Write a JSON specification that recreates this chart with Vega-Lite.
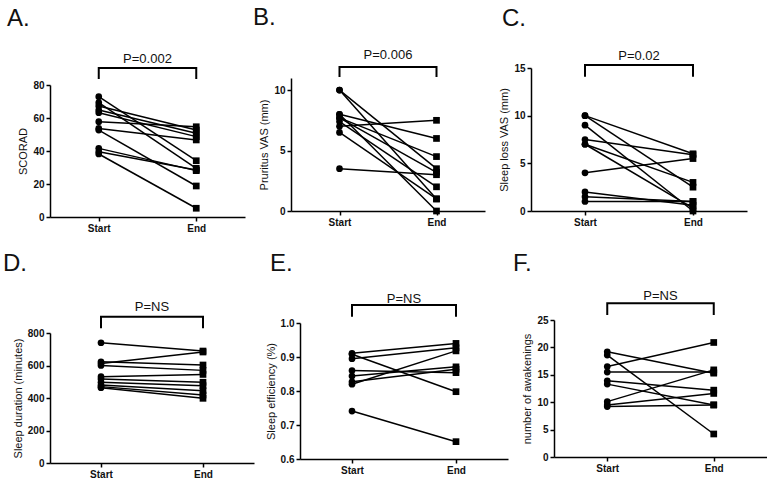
{
  "$schema": "https://vega.github.io/schema/vega-lite/v6.json",
  "background": "white",
  "padding": {"left": 3, "top": 5, "right": 0, "bottom": 0},
  "config": {
    "view": {"stroke": null},
    "font": "Liberation Sans",
    "axis": {"domainColor": "#000", "domainWidth": 1.5, "tickColor": "#000", "tickWidth": 1.5, "tickSize": 4, "labelFont": "Liberation Sans", "labelFontSize": 10, "labelFontWeight": "bold", "labelColor": "#111", "labelPadding": 2, "titleFont": "Liberation Sans", "titleFontSize": 11, "titleFontWeight": "normal", "titleColor": "#111", "grid": false},
    "title": {"anchor": "start", "frame": "group", "baseline": "alphabetic", "fontSize": 24, "fontWeight": "normal", "font": "Liberation Sans", "color": "#111"},
    "line": {"color": "#000", "strokeWidth": 1.5},
    "point": {"color": "#000", "filled": true, "opacity": 1},
    "text": {"font": "Liberation Sans", "fontSize": 13, "color": "#111", "baseline": "alphabetic"}
  },
  "datasets": {
    "A": [
      {"id": 1, "t": 1, "v": 72.9}, {"id": 1, "t": 2, "v": 34.1},
      {"id": 2, "t": 1, "v": 69.3}, {"id": 2, "t": 2, "v": 29.5},
      {"id": 3, "t": 1, "v": 67.3}, {"id": 3, "t": 2, "v": 52.7},
      {"id": 4, "t": 1, "v": 64.8}, {"id": 4, "t": 2, "v": 50.7},
      {"id": 5, "t": 1, "v": 63.2}, {"id": 5, "t": 2, "v": 48.7},
      {"id": 6, "t": 1, "v": 57.8}, {"id": 6, "t": 2, "v": 54.7},
      {"id": 7, "t": 1, "v": 53.7}, {"id": 7, "t": 2, "v": 46.7},
      {"id": 8, "t": 1, "v": 52.7}, {"id": 8, "t": 2, "v": 18.8},
      {"id": 9, "t": 1, "v": 41.6}, {"id": 9, "t": 2, "v": 28.1},
      {"id": 10, "t": 1, "v": 39.6}, {"id": 10, "t": 2, "v": 28.5},
      {"id": 11, "t": 1, "v": 38.2}, {"id": 11, "t": 2, "v": 5.3}
    ],
    "Abr": [{"o": 1, "t": 1, "v": 83.6}, {"o": 2, "t": 1, "v": 90.3}, {"o": 3, "t": 2, "v": 90.3}, {"o": 4, "t": 2, "v": 83.6}],
    "Alab": [{"t": 1.5, "v": 93.3, "label": "P=0.002"}],
    "B": [
      {"id": 1, "t": 1, "v": 10}, {"id": 1, "t": 2, "v": 3.5},
      {"id": 2, "t": 1, "v": 10}, {"id": 2, "t": 2, "v": 1},
      {"id": 3, "t": 1, "v": 8}, {"id": 3, "t": 2, "v": 6},
      {"id": 4, "t": 1, "v": 8}, {"id": 4, "t": 2, "v": 0},
      {"id": 5, "t": 1, "v": 7.7}, {"id": 5, "t": 2, "v": 4.5},
      {"id": 6, "t": 1, "v": 7.4}, {"id": 6, "t": 2, "v": 2},
      {"id": 7, "t": 1, "v": 7}, {"id": 7, "t": 2, "v": 7.5},
      {"id": 8, "t": 1, "v": 6.5}, {"id": 8, "t": 2, "v": 1},
      {"id": 9, "t": 1, "v": 3.5}, {"id": 9, "t": 2, "v": 3},
      {"id": 10, "t": 1, "v": 7.7}, {"id": 10, "t": 2, "v": 3.2}
    ],
    "Bbr": [{"o": 1, "t": 1, "v": 11.08}, {"o": 2, "t": 1, "v": 11.92}, {"o": 3, "t": 2, "v": 11.92}, {"o": 4, "t": 2, "v": 11.08}],
    "Blab": [{"t": 1.5, "v": 12.58, "label": "P=0.006"}],
    "C": [
      {"id": 1, "t": 1, "v": 10}, {"id": 1, "t": 2, "v": 6},
      {"id": 2, "t": 1, "v": 10}, {"id": 2, "t": 2, "v": 2.5},
      {"id": 3, "t": 1, "v": 9}, {"id": 3, "t": 2, "v": 0},
      {"id": 4, "t": 1, "v": 7.5}, {"id": 4, "t": 2, "v": 5.9},
      {"id": 5, "t": 1, "v": 7}, {"id": 5, "t": 2, "v": 3},
      {"id": 6, "t": 1, "v": 7}, {"id": 6, "t": 2, "v": 0.3},
      {"id": 7, "t": 1, "v": 4}, {"id": 7, "t": 2, "v": 5.5},
      {"id": 8, "t": 1, "v": 2}, {"id": 8, "t": 2, "v": 0.6},
      {"id": 9, "t": 1, "v": 1.5}, {"id": 9, "t": 2, "v": 1},
      {"id": 10, "t": 1, "v": 1}, {"id": 10, "t": 2, "v": 1}
    ],
    "Cbr": [{"o": 1, "t": 1, "v": 14.09}, {"o": 2, "t": 1, "v": 15.32}, {"o": 3, "t": 2, "v": 15.32}, {"o": 4, "t": 2, "v": 14.09}],
    "Clab": [{"t": 1.5, "v": 15.84, "label": "P=0.02"}],
    "D": [
      {"id": 1, "t": 1, "v": 740}, {"id": 1, "t": 2, "v": 689},
      {"id": 2, "t": 1, "v": 612}, {"id": 2, "t": 2, "v": 683},
      {"id": 3, "t": 1, "v": 623}, {"id": 3, "t": 2, "v": 603},
      {"id": 4, "t": 1, "v": 600}, {"id": 4, "t": 2, "v": 570},
      {"id": 5, "t": 1, "v": 531}, {"id": 5, "t": 2, "v": 545},
      {"id": 6, "t": 1, "v": 517}, {"id": 6, "t": 2, "v": 497},
      {"id": 7, "t": 1, "v": 497}, {"id": 7, "t": 2, "v": 476},
      {"id": 8, "t": 1, "v": 480}, {"id": 8, "t": 2, "v": 445},
      {"id": 9, "t": 1, "v": 470}, {"id": 9, "t": 2, "v": 418},
      {"id": 10, "t": 1, "v": 463}, {"id": 10, "t": 2, "v": 398}
    ],
    "Dbr": [{"o": 1, "t": 1, "v": 829}, {"o": 2, "t": 1, "v": 900}, {"o": 3, "t": 2, "v": 900}, {"o": 4, "t": 2, "v": 829}],
    "Dlab": [{"t": 1.5, "v": 935, "label": "P=NS"}],
    "E": [
      {"id": 1, "t": 1, "v": 0.911}, {"id": 1, "t": 2, "v": 0.94},
      {"id": 2, "t": 1, "v": 0.908}, {"id": 2, "t": 2, "v": 0.798},
      {"id": 3, "t": 1, "v": 0.895}, {"id": 3, "t": 2, "v": 0.927},
      {"id": 4, "t": 1, "v": 0.86}, {"id": 4, "t": 2, "v": 0.854},
      {"id": 5, "t": 1, "v": 0.844}, {"id": 5, "t": 2, "v": 0.871},
      {"id": 6, "t": 1, "v": 0.827}, {"id": 6, "t": 2, "v": 0.864},
      {"id": 7, "t": 1, "v": 0.82}, {"id": 7, "t": 2, "v": 0.918},
      {"id": 8, "t": 1, "v": 0.741}, {"id": 8, "t": 2, "v": 0.651}
    ],
    "Ebr": [{"o": 1, "t": 1, "v": 1.0185}, {"o": 2, "t": 1, "v": 1.053}, {"o": 3, "t": 2, "v": 1.053}, {"o": 4, "t": 2, "v": 1.0185}],
    "Elab": [{"t": 1.5, "v": 1.059, "label": "P=NS"}],
    "F": [
      {"id": 1, "t": 1, "v": 19.2}, {"id": 1, "t": 2, "v": 15.3},
      {"id": 2, "t": 1, "v": 18.6}, {"id": 2, "t": 2, "v": 4.2},
      {"id": 3, "t": 1, "v": 16.5}, {"id": 3, "t": 2, "v": 20.9},
      {"id": 4, "t": 1, "v": 15.5}, {"id": 4, "t": 2, "v": 15.5},
      {"id": 5, "t": 1, "v": 13.9}, {"id": 5, "t": 2, "v": 12.2},
      {"id": 6, "t": 1, "v": 13.3}, {"id": 6, "t": 2, "v": 9.5},
      {"id": 7, "t": 1, "v": 10.1}, {"id": 7, "t": 2, "v": 15.9},
      {"id": 8, "t": 1, "v": 9.5}, {"id": 8, "t": 2, "v": 11.6},
      {"id": 9, "t": 1, "v": 9.2}, {"id": 9, "t": 2, "v": 9.5}
    ],
    "Fbr": [{"o": 1, "t": 1, "v": 25.9}, {"o": 2, "t": 1, "v": 28.05}, {"o": 3, "t": 2, "v": 28.05}, {"o": 4, "t": 2, "v": 25.9}],
    "Flab": [{"t": 1.5, "v": 28.65, "label": "P=NS"}]
  },
  "spacing": 18,
  "vconcat": [
    {
      "hconcat": [
        {
          "title": {"text": "A.", "dx": -43, "offset": 22},
          "width": 195, "height": 149,
          "encoding": {
            "x": {"field": "t", "type": "quantitative", "scale": {"domain": [0.5, 2.5]}, "axis": {"title": null, "values": [1, 2], "labelExpr": "datum.value == 1 ? 'Start' : 'End'"}},
            "y": {"field": "v", "type": "quantitative", "scale": {"domain": [0, 80], "range": [149, 17]}, "axis": {"title": "SCORAD", "values": [0, 20, 40, 60, 80]}}
          },
          "layer": [
            {"data": {"name": "A"}, "mark": "line", "encoding": {"detail": {"field": "id"}}},
            {"data": {"name": "A"}, "mark": {"type": "point", "size": 45}, "encoding": {"shape": {"field": "t", "type": "nominal", "scale": {"domain": [1, 2], "range": ["circle", "square"]}, "legend": null}}},
            {"data": {"name": "Abr"}, "mark": {"type": "line", "strokeWidth": 2}, "encoding": {"order": {"field": "o"}}},
            {"data": {"name": "Alab"}, "mark": "text", "encoding": {"text": {"field": "label"}}}
          ]
        },
        {
          "title": {"text": "B.", "dx": -38, "offset": 19},
          "width": 194, "height": 143,
          "encoding": {
            "x": {"field": "t", "type": "quantitative", "scale": {"domain": [0.5, 2.5]}, "axis": {"title": null, "values": [1, 2], "labelExpr": "datum.value == 1 ? 'Start' : 'End'"}},
            "y": {"field": "v", "type": "quantitative", "scale": {"domain": [0, 11], "range": [143, 10]}, "axis": {"title": "Pruritus VAS (mm)", "values": [0, 5, 10]}}
          },
          "layer": [
            {"data": {"name": "B"}, "mark": "line", "encoding": {"detail": {"field": "id"}}},
            {"data": {"name": "B"}, "mark": {"type": "point", "size": 45}, "encoding": {"shape": {"field": "t", "type": "nominal", "scale": {"domain": [1, 2], "range": ["circle", "square"]}, "legend": null}}},
            {"data": {"name": "Bbr"}, "mark": {"type": "line", "strokeWidth": 2}, "encoding": {"order": {"field": "o"}}},
            {"data": {"name": "Blab"}, "mark": "text", "encoding": {"text": {"field": "label"}}}
          ]
        },
        {
          "title": {"text": "C.", "dx": -29, "offset": 19},
          "width": 216, "height": 143,
          "encoding": {
            "x": {"field": "t", "type": "quantitative", "scale": {"domain": [0.5, 2.5]}, "axis": {"title": null, "values": [1, 2], "labelExpr": "datum.value == 1 ? 'Start' : 'End'"}},
            "y": {"field": "v", "type": "quantitative", "scale": {"domain": [0, 15], "range": [143, 0]}, "axis": {"title": "Sleep loss VAS (mm)", "values": [0, 5, 10, 15]}}
          },
          "layer": [
            {"data": {"name": "C"}, "mark": "line", "encoding": {"detail": {"field": "id"}}},
            {"data": {"name": "C"}, "mark": {"type": "point", "size": 45}, "encoding": {"shape": {"field": "t", "type": "nominal", "scale": {"domain": [1, 2], "range": ["circle", "square"]}, "legend": null}}},
            {"data": {"name": "Cbr"}, "mark": {"type": "line", "strokeWidth": 2}, "encoding": {"order": {"field": "o"}}},
            {"data": {"name": "Clab"}, "mark": "text", "encoding": {"text": {"field": "label"}}}
          ]
        }
      ],
      "spacing": 46,
      "bounds": "flush"
    },
    {
      "hconcat": [
        {
          "title": {"text": "D.", "dx": -47, "offset": 25},
          "width": 204, "height": 143,
          "encoding": {
            "x": {"field": "t", "type": "quantitative", "scale": {"domain": [0.5, 2.5]}, "axis": {"title": null, "values": [1, 2], "labelExpr": "datum.value == 1 ? 'Start' : 'End'"}},
            "y": {"field": "v", "type": "quantitative", "scale": {"domain": [0, 800], "range": [143, 13]}, "axis": {"title": "Sleep duration (minutes)", "values": [0, 200, 400, 600, 800]}}
          },
          "layer": [
            {"data": {"name": "D"}, "mark": "line", "encoding": {"detail": {"field": "id"}}},
            {"data": {"name": "D"}, "mark": {"type": "point", "size": 45}, "encoding": {"shape": {"field": "t", "type": "nominal", "scale": {"domain": [1, 2], "range": ["circle", "square"]}, "legend": null}}},
            {"data": {"name": "Dbr"}, "mark": {"type": "line", "strokeWidth": 2}, "encoding": {"order": {"field": "o"}}},
            {"data": {"name": "Dlab"}, "mark": "text", "encoding": {"text": {"field": "label"}}}
          ]
        },
        {
          "title": {"text": "E.", "dx": -30, "offset": 17},
          "width": 208, "height": 139,
          "encoding": {
            "x": {"field": "t", "type": "quantitative", "scale": {"domain": [0.5, 2.5]}, "axis": {"title": null, "values": [1, 2], "labelExpr": "datum.value == 1 ? 'Start' : 'End'"}},
            "y": {"field": "v", "type": "quantitative", "scale": {"domain": [0.6, 1.0], "range": [139, 3], "zero": false}, "axis": {"title": "Sleep efficiency  (%)", "values": [0.6, 0.7, 0.8, 0.9, 1.0], "format": ".1f"}}
          },
          "layer": [
            {"data": {"name": "E"}, "mark": "line", "encoding": {"detail": {"field": "id"}}},
            {"data": {"name": "E"}, "mark": {"type": "point", "size": 45}, "encoding": {"shape": {"field": "t", "type": "nominal", "scale": {"domain": [1, 2], "range": ["circle", "square"]}, "legend": null}}},
            {"data": {"name": "Ebr"}, "mark": {"type": "line", "strokeWidth": 2}, "encoding": {"order": {"field": "o"}}},
            {"data": {"name": "Elab"}, "mark": "text", "encoding": {"text": {"field": "label"}}}
          ]
        },
        {
          "title": {"text": "F.", "dx": -41, "offset": 14},
          "width": 213, "height": 137,
          "encoding": {
            "x": {"field": "t", "type": "quantitative", "scale": {"domain": [0.5, 2.5]}, "axis": {"title": null, "values": [1, 2], "labelExpr": "datum.value == 1 ? 'Start' : 'End'"}},
            "y": {"field": "v", "type": "quantitative", "scale": {"domain": [0, 25], "range": [137, 0]}, "axis": {"title": "number of awakenings", "values": [0, 5, 10, 15, 20, 25]}}
          },
          "layer": [
            {"data": {"name": "F"}, "mark": "line", "encoding": {"detail": {"field": "id"}}},
            {"data": {"name": "F"}, "mark": {"type": "point", "size": 45}, "encoding": {"shape": {"field": "t", "type": "nominal", "scale": {"domain": [1, 2], "range": ["circle", "square"]}, "legend": null}}},
            {"data": {"name": "Fbr"}, "mark": {"type": "line", "strokeWidth": 2}, "encoding": {"order": {"field": "o"}}},
            {"data": {"name": "Flab"}, "mark": "text", "encoding": {"text": {"field": "label"}}}
          ]
        }
      ],
      "spacing": 46,
      "bounds": "flush"
    }
  ]
}
